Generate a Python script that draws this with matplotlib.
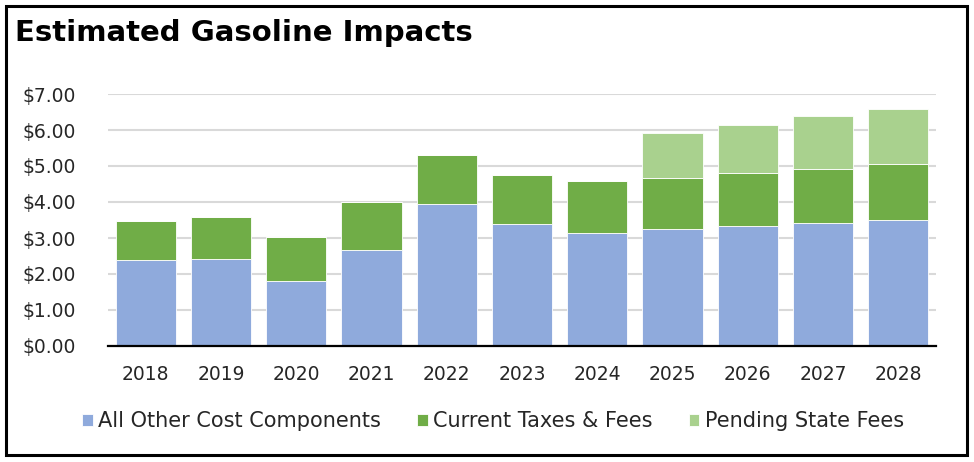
import matplotlib
matplotlib.use("Agg")
import matplotlib.pyplot as plt
from matplotlib.patches import Rectangle
from matplotlib.ticker import FuncFormatter

years = ["2018", "2019", "2020", "2021", "2022", "2023",
         "2024", "2025", "2026", "2027", "2028"]
other_costs = [2.39, 2.42, 1.80, 2.68, 3.94, 3.38, 3.15, 3.25, 3.34, 3.41, 3.51]
current_taxes = [1.07, 1.17, 1.22, 1.32, 1.36, 1.38, 1.42, 1.43, 1.46, 1.52, 1.55]
pending_fees = [0, 0, 0, 0, 0, 0, 0, 1.23, 1.33, 1.45, 1.53]

BLUE = "#8FAADC"
GREEN = "#70AD47"
LIGHT = "#A9D18E"

plt.rcParams["font.family"] = ["DejaVu Sans"]

fig = plt.figure(figsize=(9.74, 4.62), dpi=100)
ax = fig.add_axes([108 / 974, 116 / 462, 828 / 974, 252 / 462])

x = range(len(years))
base2 = [a + b for a, b in zip(other_costs, current_taxes)]
b1 = ax.bar(x, other_costs, 0.8, color=BLUE, edgecolor="white", linewidth=0.6,
            label="All Other Cost Components", zorder=3)
b2 = ax.bar(x, current_taxes, 0.8, bottom=other_costs, color=GREEN,
            edgecolor="white", linewidth=0.6, label="Current Taxes & Fees", zorder=3)
b3 = ax.bar(x, pending_fees, 0.8, bottom=base2, color=LIGHT,
            edgecolor="white", linewidth=0.6, label="Pending State Fees", zorder=3)

ax.set_xlim(-0.5, len(years) - 0.5)
ax.set_ylim(0, 7)
ax.set_yticks(range(0, 8))
ax.yaxis.set_major_formatter(FuncFormatter(lambda v, p: f"${v:.2f}"))
ax.set_xticks(list(x))
ax.set_xticklabels(years)
ax.tick_params(axis="both", length=0, labelsize=13.5, colors="#262626")
ax.tick_params(axis="y", pad=23)
ax.tick_params(axis="x", pad=14)

ax.grid(axis="y", color="#d9d9d9", linewidth=1.5, zorder=0)
for s in ["top", "right", "left"]:
    ax.spines[s].set_visible(False)
ax.spines["bottom"].set_color("black")
ax.spines["bottom"].set_linewidth(1.6)
ax.spines["bottom"].set_zorder(4)

fig.text(15 / 974, 1 - 33 / 462, "Estimated Gasoline Impacts", fontsize=21,
         fontweight="bold", va="center", ha="left", color="black")

leg = fig.legend(handles=[b1, b2, b3], loc="center", ncol=3,
                 bbox_to_anchor=(493 / 974, 1 - 421 / 462), frameon=False,
                 fontsize=15, handlelength=0.5, handleheight=0.5,
                 handletextpad=0.25, columnspacing=1.75)
for t in leg.get_texts():
    t.set_color("#262626")

fig.patches.append(Rectangle((6 / 974, 1 - 455 / 462), 961 / 974, 449 / 462,
                             transform=fig.transFigure, fill=False,
                             edgecolor="black", linewidth=2.2))

fig.savefig("out.png", dpi=100)
